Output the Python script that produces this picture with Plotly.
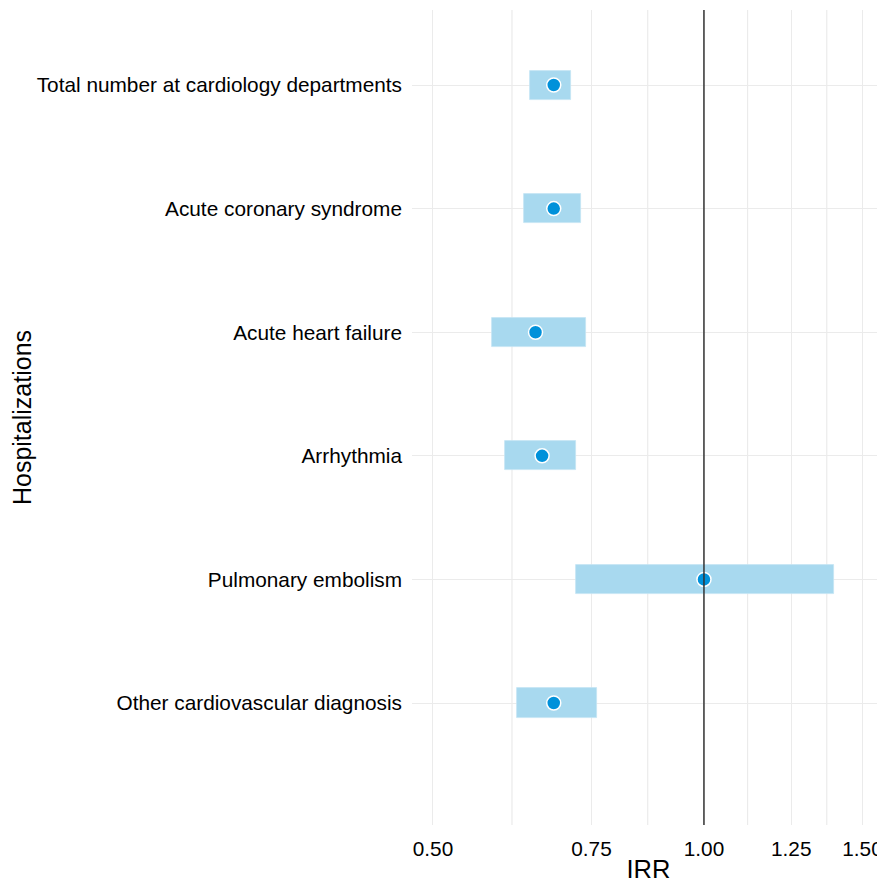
import plotly.graph_objects as go

categories = ["Total number at cardiology departments", "Acute coronary syndrome",
              "Acute heart failure", "Arrhythmia", "Pulmonary embolism",
              "Other cardiovascular diagnosis"]
irr = [0.681, 0.681, 0.650, 0.661, 1.00, 0.681]
ci_low = [0.641, 0.631, 0.581, 0.601, 0.721, 0.620]
ci_high = [0.711, 0.730, 0.740, 0.720, 1.394, 0.761]
x_ticks = [0.50, 0.75, 1.00, 1.25, 1.50]
x_tick_labels = ["0.50", "0.75", "1.00", "1.25", "1.50"]
minor_ticks = [0.612, 0.866, 1.118, 1.369]

fig = go.Figure()
fig.add_trace(go.Bar(
    y=categories, x=[h - l for l, h in zip(ci_low, ci_high)], base=ci_low,
    orientation="h", width=0.235,
    marker=dict(color="#a8d9ef", line=dict(color="#c4e5f4", width=0.8)),
    hoverinfo="skip", showlegend=False))
fig.add_trace(go.Scatter(
    y=categories, x=irr, mode="markers",
    marker=dict(size=14, color="#0091da", line=dict(color="white", width=1.5)),
    showlegend=False))

for m in minor_ticks:
    fig.add_shape(type="line", xref="x", yref="paper", x0=m, x1=m, y0=0, y1=1,
                  line=dict(color="#ebebeb", width=1.2), layer="below")
fig.add_shape(type="line", xref="x", yref="paper", x0=1, x1=1, y0=0, y1=1,
              line=dict(color="#333333", width=1.5), layer="above")

fig.update_layout(
    width=877, height=875,
    margin=dict(l=404, r=0, t=2, b=58, autoexpand=False),
    paper_bgcolor="white", plot_bgcolor="white",
    font=dict(family="Liberation Sans, Arial, sans-serif", size=20, color="#000000"),
    bargap=0,
    xaxis=dict(type="log", range=[-0.3243, 0.2011], tickvals=x_ticks, ticktext=x_tick_labels,
               showgrid=True, gridcolor="#ebebeb", gridwidth=1.2, zeroline=False,
               showline=False, ticks="", ticklabelstandoff=9, automargin=False,
               tickfont=dict(size=20.8),
               title=dict(text="IRR", font=dict(size=25.5), standoff=9)),
    yaxis=dict(type="category", categoryorder="array", categoryarray=categories,
               range=[5.987, -0.607], showgrid=True, gridcolor="#ebebeb", gridwidth=1.2,
               zeroline=False, showline=False, ticks="", ticklabelstandoff=9,
               automargin=False, tickfont=dict(size=20.8),
               title=dict(text="Hospitalizations", font=dict(size=25), standoff=2)),
)

fig.write_html("out.html")
